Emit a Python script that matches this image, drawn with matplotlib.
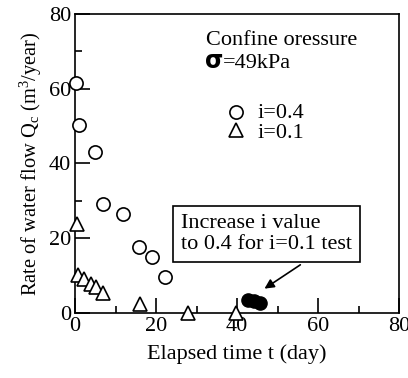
import matplotlib
matplotlib.use('Agg')
import matplotlib.pyplot as plt
from matplotlib.ticker import MultipleLocator

plt.rcParams['font.family'] = ['Liberation Serif', 'DejaVu Serif']
plt.rcParams['mathtext.fontset'] = 'custom'
plt.rcParams['mathtext.rm'] = 'Liberation Serif'
plt.rcParams['mathtext.it'] = 'Liberation Serif:italic'

# i = 0.4 test (open circles)
t_04 = [0.25, 0.9, 4.9, 7.0, 11.9, 15.9, 18.9, 22.1]
q_04 = [61.6, 50.2, 43.0, 29.2, 26.5, 17.6, 14.9, 9.6]

# i = 0.1 test (open triangles)
t_01 = [0.4, 0.8, 2.1, 3.9, 5.2, 7.0, 16.0, 28.0, 39.8]
q_01 = [23.9, 10.2, 9.1, 7.8, 6.9, 5.3, 2.5, 0.0, 0.0]

# after raising i to 0.4 in the i=0.1 test (filled)
t_up = [42.8, 44.3, 45.7]
q_up = [3.6, 3.2, 2.8]

FS = 16

fig = plt.figure(figsize=(4.08, 3.78), dpi=100)
ax = fig.add_axes([0.184, 0.172, 0.794, 0.791])

ax.plot(t_04, q_04, 'o', ms=9.5, mfc='white', mec='black', mew=1.2, clip_on=False, zorder=3)
ax.plot(t_01, q_01, '^', ms=10, mfc='white', mec='black', mew=1.2, clip_on=False, zorder=3)
ax.plot(t_up, q_up, 'o', ms=9.5, mfc='black', mec='black', clip_on=False, zorder=3)

ax.set_xlim(0, 80)
ax.set_ylim(0, 80)
ax.xaxis.set_major_locator(MultipleLocator(20))
ax.xaxis.set_minor_locator(MultipleLocator(10))
ax.yaxis.set_major_locator(MultipleLocator(20))
ax.yaxis.set_minor_locator(MultipleLocator(10))
ax.tick_params(which='both', direction='in', top=False, right=False, width=1.2, labelsize=FS, pad=3)
ax.tick_params(which='major', length=11)
ax.tick_params(which='minor', length=5)
for s in ax.spines.values():
    s.set_linewidth(1.2)

ax.set_xlabel('Elapsed time t (day)', fontsize=FS, labelpad=6)
ax.set_ylabel(r'Rate of water flow Q$_\mathrm{c}$ (m$^3$/year)', fontsize=14.8, labelpad=3)

# text block
ax.text(32.3, 71.7, 'Confine oressure', fontsize=FS)
ax.text(32.0, 65.6, 'σ', fontsize=17, fontweight='bold', family='DejaVu Sans')
ax.text(36.6, 65.6, '=49kPa', fontsize=FS)

# legend
ax.plot([39.8], [53.7], 'o', ms=9.5, mfc='white', mec='black', mew=1.2)
ax.plot([39.8], [49.0], '^', ms=10, mfc='white', mec='black', mew=1.2)
ax.text(45.0, 52.2, 'i=0.4', fontsize=FS)
ax.text(45.0, 46.7, 'i=0.1', fontsize=FS)

ax.text(26.2, 21.2, 'Increase i value\nto 0.4 for i=0.1 test', fontsize=FS,
        va='center', ha='left', linespacing=1.15,
        bbox=dict(boxstyle='square,pad=0.35', fc='white', ec='black', lw=1.2))
ax.annotate('', xy=(46.2, 6.1), xytext=(56.2, 13.3),
            arrowprops=dict(arrowstyle='-|>', color='black', lw=1.2, mutation_scale=14))

fig.savefig('out.png', dpi=100)
